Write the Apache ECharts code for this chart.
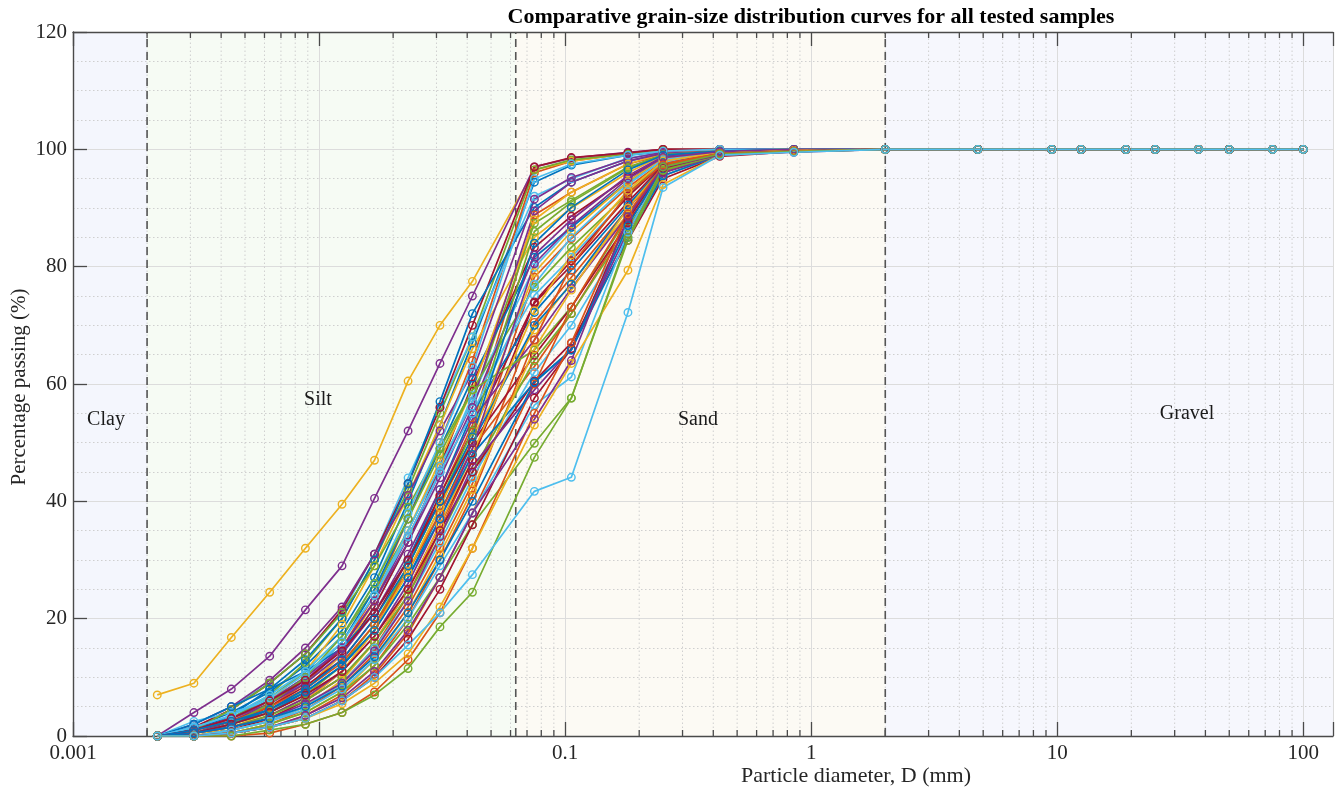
<!DOCTYPE html>
<html><head><meta charset="utf-8">
<script src="https://cdn.jsdelivr.net/npm/echarts@6/dist/echarts.min.js"></script>
<style>html,body{margin:0;padding:0;background:#fff}#c{width:1342px;height:793px}</style>
</head><body><div id="c"></div><script>
// ---------------- DATA ----------------
const hydroD = [0.0022, 0.0031, 0.0044, 0.0063, 0.0088, 0.0124, 0.0168, 0.023, 0.031, 0.042];
const sieveD = [0.075, 0.106, 0.18, 0.25, 0.425, 0.85, 2];
const coarseD = [4.75, 9.5, 12.5, 19, 25, 37.5, 50, 75, 100];
const coarsePassing = [100, 100, 100, 100, 100, 100, 100, 100, 100];
// passing (%) at hydroD then sieveD
const sample01 = [0, 1.5, 4, 7.5, 12, 18, 27, 40, 53, 67, 94.4, 97.3, 99, 99.6, 99.8, 100, 100];
const sample02 = [0, 0.5, 2, 5, 9, 15, 24, 37, 50, 64, 96, 98, 99.3, 100, 100, 100, 100];
const sample03 = [7, 9, 16.8, 24.5, 32, 39.5, 47, 60.5, 70, 77.5, 96.5, 98, 99.3, 100, 100, 100, 100];
const sample04 = [0, 4, 8, 13.6, 21.5, 29, 40.5, 52, 63.5, 75, 97, 98.5, 99.5, 100, 100, 100, 100];
const sample05 = [0, 1, 3, 7, 12.5, 20, 30, 42, 55, 68, 96.5, 98.2, 99.2, 99.8, 100, 100, 100];
const sample06 = [0, 2, 5, 9, 14, 21, 31, 44, 56, 68, 92, 95, 98.5, 99.5, 100, 100, 100];
const sample07 = [0, 1.5, 4.5, 9, 14, 21.5, 31, 43, 56, 70, 97, 98.6, 99.4, 100, 100, 100, 100];
const sample08 = [0, 1, 3.5, 8, 13, 20, 30, 43, 57, 72, 90.1, 94.4, 98, 99.3, 100, 100, 100];
const sample09 = [0, 0, 1, 3, 6, 11, 18, 29, 41, 53, 88.8, 92.7, 97.5, 99, 99.6, 100, 100];
const sample10 = [0, 0.5, 2.5, 6, 11, 19, 29, 41, 53, 66, 85, 90, 96, 99, 99.7, 100, 100];
const sample11 = [0, 2, 5, 9.5, 15, 22, 31, 41, 52, 62, 91.5, 95.2, 98.4, 99.5, 100, 100, 100];
const sample12 = [0, 1, 3, 6.5, 11, 17, 25, 35, 46, 57, 87.4, 91.3, 97, 99, 99.7, 100, 100];
const sample13 = [0, 2.5, 4, 6, 9, 14, 22, 33, 45, 58, 79.9, 86.7, 94.2, 98.5, 99.5, 100, 100];
const sample14 = [0, 0.5, 2, 4.5, 8, 14, 22, 33, 46, 60, 83.3, 88.6, 95.2, 98.6, 99.5, 99.8, 100];
const sample15 = [0, 1.5, 3, 6, 10, 16, 25, 37, 49, 61, 81.6, 86.7, 94.5, 98.6, 99.6, 100, 100];
const sample16 = [0, 0, 1, 2.5, 5, 9, 15, 24, 35, 47, 78.2, 84.8, 93.5, 98, 99.4, 99.8, 100];
const sample17 = [0, 0, 1.5, 4, 8, 14, 23, 35, 47, 59, 88, 92.7, 97.5, 99.3, 99.8, 100, 100];
const sample18 = [0, 0.5, 2.5, 5.5, 9.5, 15, 23, 34, 45, 57, 89.5, 94.4, 98, 99.3, 99.7, 100, 100];
const sample19 = [0, 1, 4.5, 9, 14, 21, 29, 39, 49, 59, 76.5, 83.3, 92.5, 98, 99.4, 100, 100];
const sample20 = [0, 1, 3, 6, 10, 16, 24, 35, 46, 57, 75.1, 81.6, 92, 97.8, 99.4, 99.8, 100];
const sample21 = [0, 1, 2.5, 5, 8.5, 13, 20, 30, 41, 52, 73.8, 80.2, 91, 97.3, 99.3, 99.8, 100];
const sample22 = [0, 2, 5, 8, 11, 15, 21, 30, 42, 55, 72.2, 79.4, 90.5, 97, 99.3, 99.8, 100];
const sample23 = [0, 0, 0.5, 2, 4.5, 8.5, 14, 22, 32, 43, 70.5, 78.2, 89.9, 96.8, 99.2, 99.8, 100];
const sample24 = [0, 0, 1, 3, 6, 11, 18, 28, 39, 51, 69.2, 77.2, 89, 96.5, 99.3, 99.8, 100];
const sample25 = [0, 1, 3, 6, 10, 15, 23, 33, 44, 56, 82, 88, 95.5, 98.8, 99.6, 100, 100];
const sample26 = [0, 0.5, 2, 4, 7, 12, 19, 29, 40, 52, 86, 91, 96.8, 99.1, 99.7, 100, 100];
const sample27 = [0, 1.5, 3.5, 7, 11, 17, 26, 38, 50, 63, 95, 97.5, 99, 99.7, 100, 100, 100];
const sample28 = [0, 0, 1, 3, 6, 10, 16, 25, 36, 47, 74, 81, 92, 97.5, 99.4, 99.8, 100];
const sample29 = [0, 0.5, 2, 4, 7.5, 12, 18, 27, 38, 50, 70, 77, 90, 97, 99.3, 99.8, 100];
const sample30 = [0, 1, 2.5, 5, 8, 12.5, 19, 28, 38, 49, 63, 72, 87.5, 96.3, 99.1, 99.7, 100];
const sample31 = [0, 0.5, 1.5, 3.5, 6.5, 11, 18, 28, 39, 51, 79, 86, 94.5, 98.5, 99.6, 100, 100];
const sample32 = [0, 1, 3, 5.5, 9, 14, 21, 31, 42, 54, 67.5, 76.3, 88.8, 96.4, 99.2, 99.8, 100];
const sample33 = [0, 0.5, 2, 5.5, 10, 17, 26, 37, 48, 59, 65.8, 73.1, 88.5, 96.5, 99.3, 99.8, 100];
const sample34 = [0, 1.5, 3.5, 6.5, 10.5, 16, 24, 34, 45, 55, 77, 85, 94, 98.2, 99.5, 100, 100];
const sample35 = [0, 1, 3, 6, 9.5, 14.5, 21, 30, 40, 50, 64.9, 73.1, 87.5, 96, 99, 99.7, 100];
const sample36 = [0, 0.5, 2, 4.5, 8, 13, 20, 29, 40, 51, 84, 90.1, 96.5, 99, 99.7, 100, 100];
const sample37 = [0, 0, 0.5, 1.5, 3.5, 7, 12, 20, 30, 41, 67.5, 80.2, 92.5, 97.5, 99.4, 99.8, 100];
const sample38 = [0, 0, 1, 2.5, 5, 9.5, 16, 25, 36, 48, 72.5, 82, 93, 98, 99.5, 99.8, 100];
const sample39 = [0, 0.5, 1.5, 3.5, 6.5, 11, 17, 26, 37, 49, 80.5, 87, 95, 98.6, 99.6, 100, 100];
const sample40 = [0, 0.5, 1.5, 3.5, 6, 10, 16, 24, 34, 45, 64, 72, 86.7, 95.5, 99, 99.7, 100];
const sample41 = [0, 0, 1, 2.5, 5, 9, 15, 23, 33, 44, 62, 70, 86, 95.5, 99, 99.7, 100];
const sample42 = [0, 0.5, 2, 4, 7, 11, 17, 25, 35, 45, 60.5, 67, 84.5, 95, 98.8, 99.6, 100];
const sample43 = [0, 1, 2.5, 4.5, 7.5, 12, 18, 27, 37, 48, 60.3, 65.8, 85, 95.5, 99, 99.7, 100];
const sample44 = [0, 0, 0.5, 1.5, 3, 6, 10.5, 17.5, 27, 38, 60, 73.1, 89, 97, 99.3, 99.8, 100];
const sample45 = [0, 0, 0.5, 2, 4, 7.5, 13, 21, 31, 42, 66, 76, 90, 97, 99.3, 99.8, 100];
const sample46 = [0, 0.5, 1.5, 3, 5.5, 9, 14.5, 23, 34, 46, 59, 66, 86, 96, 99, 99.7, 100];
const sample47 = [0, 0, 0.5, 2, 4, 7.5, 12, 19, 27, 36, 49.9, 57.6, 84.5, 96.4, 99, 99.6, 100];
const sample48 = [0, 0, 1, 2.5, 4.5, 8, 13, 20, 29, 38, 56.4, 61.2, 85.9, 97, 99.2, 99.6, 100];
const sample49 = [0, 0, 0.5, 1.5, 3, 6, 10, 16.5, 25, 36, 57.6, 66, 88, 96.8, 99.2, 99.7, 100];
const sample50 = [0, 0.5, 1.5, 3, 5, 8.5, 13.5, 21, 30, 40, 60.3, 65.8, 87, 97, 99.3, 99.7, 100];
const sample51 = [0, 0, 0, 0.5, 2, 4, 7.5, 13, 21, 32, 55, 67, 89, 97.3, 99.3, 99.7, 100];
const sample52 = [0, 0, 0.5, 1.5, 3, 5.5, 9, 14, 22, 32, 53, 63.5, 79.4, 94, 99, 99.6, 100];
const sample53 = [0, 0, 0.5, 1.5, 3.5, 6.5, 11, 18, 27, 38, 54, 64, 88.5, 97, 99, 99.5, 100];
const sample54 = [0, 0, 0, 1, 2, 4, 7, 11.5, 18.6, 24.5, 47.5, 57.6, 85, 97, 99.2, 99.6, 100];
const sample55 = [0, 0, 0.5, 1.5, 3, 6, 10, 15.5, 21, 27.5, 41.7, 44.1, 72.2, 93.5, 99, 99.5, 100];
const samples = [sample01, sample02, sample03, sample04, sample05, sample06, sample07, sample08,
  sample09, sample10, sample11, sample12, sample13, sample14, sample15, sample16, sample17, sample18,
  sample19, sample20, sample21, sample22, sample23, sample24, sample25, sample26, sample27, sample28,
  sample29, sample30, sample31, sample32, sample33, sample34, sample35, sample36, sample37, sample38,
  sample39, sample40, sample41, sample42, sample43, sample44, sample45, sample46, sample47, sample48,
  sample49, sample50, sample51, sample52, sample53, sample54, sample55];

const xTickLabels = ['0.001', '0.01', '0.1', '1', '10', '100'];
const minorXTicks = [0.002,0.003,0.004,0.005,0.006,0.007,0.008,0.009,
  0.02,0.03,0.04,0.05,0.06,0.07,0.08,0.09,
  0.2,0.3,0.4,0.5,0.6,0.7,0.8,0.9,
  2,3,4,5,6,7,8,9,
  20,30,40,50,60,70,80,90];
const zoneBounds = [0.001, 0.002, 0.063, 2, 132];
const zoneNames = ['Clay', 'Silt', 'Sand', 'Gravel'];
const zoneDividers = [0.002, 0.063, 2];

// ---------------- CHART ----------------
const colors = ['#0072BD','#D95319','#EDB120','#7E2F8E','#77AC30','#4DBEEE','#A2142F'];
const zoneColors = ['#f4f6fd', '#f6fbf4', '#fcfaf4', '#f6f7fd'];
const FONT = '"Liberation Serif", "DejaVu Serif", serif';
const AX = '#4a4a4a';
const X_MIN = zoneBounds[0], X_MAX = zoneBounds[4];

const chart = echarts.init(document.getElementById('c'), null, {renderer: 'canvas'});

function xFmt(v) {
  const l = Math.log10(v);
  const r = Math.round(l);
  if (Math.abs(l - r) < 1e-6 && r >= -3 && r <= 2) return xTickLabels[r + 3];
  return '';
}

const dataSeries = samples.map((p, i) => {
  const d = [];
  hydroD.forEach((x, k) => d.push([x, p[k]]));
  sieveD.forEach((x, k) => d.push([x, p[hydroD.length + k]]));
  coarseD.forEach((x, k) => d.push([x, coarsePassing[k]]));
  const c = colors[i % colors.length];
  return {
    type: 'line', name: 'S' + (i + 1), z: 5, silent: true,
    data: d, symbol: 'circle', symbolSize: 7.5,
    lineStyle: {width: 1.7, color: c},
    itemStyle: {color: 'rgba(0,0,0,0)', borderColor: c, borderWidth: 1.4},
    emphasis: {disabled: true}
  };
});

const option = {
  animation: false,
  backgroundColor: '#ffffff',
  grid: {left: 73, right: 9, top: 32, bottom: 57, containLabel: false},
  xAxis: [{
    type: 'log', logBase: 10, min: X_MIN, max: X_MAX, position: 'bottom', z: 2,
    axisLine: {show: true, onZero: false, lineStyle: {color: AX, width: 1.4}},
    axisTick: {show: true, inside: true, length: 14, lineStyle: {color: AX, width: 1.3}},
    axisLabel: {formatter: xFmt, fontFamily: FONT, fontSize: 21, color: '#262626', margin: 7},
    splitLine: {show: true, lineStyle: {color: '#dcdcdc', width: 1}},
    minorTick: {show: false}, minorSplitLine: {show: false}
  }, {
    type: 'log', logBase: 10, min: X_MIN, max: X_MAX, position: 'top', z: 2,
    axisLine: {show: true, onZero: false, lineStyle: {color: AX, width: 1.4}},
    axisTick: {show: true, inside: true, length: 14, lineStyle: {color: AX, width: 1.3}},
    axisLabel: {show: false}, splitLine: {show: false}
  }],
  yAxis: [{
    type: 'value', min: 0, max: 120, interval: 20, z: 2,
    axisLine: {show: true, lineStyle: {color: AX, width: 1.4}},
    axisTick: {show: true, inside: true, length: 14, lineStyle: {color: AX, width: 1.3}},
    axisLabel: {fontFamily: FONT, fontSize: 21, color: '#262626', margin: 6},
    splitLine: {show: true, lineStyle: {color: '#dcdcdc', width: 1}},
    minorTick: {show: false, splitNumber: 4},
    minorSplitLine: {show: true, lineStyle: {color: '#cfcfcf', width: 1, type: [1.5, 2.5]}}
  }],
  series: [
    { // background zones
      type: 'custom', z: 1, silent: true,
      data: zoneNames.map((n, i) => [zoneBounds[i], zoneBounds[i + 1], i]),
      encode: {x: [0, 1]},
      renderItem: function (params, api) {
        const a = api.coord([api.value(0), 120]);
        const b = api.coord([api.value(1), 0]);
        return {type: 'rect', shape: {x: a[0], y: a[1], width: b[0] - a[0], height: b[1] - a[1]},
          style: {fill: zoneColors[api.value(2)]}};
      }
    },
    { // minor log grid + minor ticks
      type: 'custom', z: 3, silent: true,
      data: minorXTicks.map(v => [v, 0]),
      encode: {x: 0, y: 1},
      renderItem: function (params, api) {
        const x = api.value(0);
        const b = api.coord([x, 0]);
        const t = api.coord([x, 120]);
        return {type: 'group', children: [
          {type: 'line', shape: {x1: b[0], y1: b[1], x2: t[0], y2: t[1]},
           style: {stroke: '#cfcfcf', lineWidth: 1, lineDash: [1.5, 2.5]}},
          {type: 'line', shape: {x1: b[0], y1: b[1], x2: b[0], y2: b[1] - 6},
           style: {stroke: AX, lineWidth: 1.3}},
          {type: 'line', shape: {x1: t[0], y1: t[1], x2: t[0], y2: t[1] + 6},
           style: {stroke: AX, lineWidth: 1.3}}
        ]};
      }
    },
    { // zone dividers
      type: 'custom', z: 4, silent: true,
      data: zoneDividers.map(v => [v, 0]),
      encode: {x: 0, y: 1},
      renderItem: function (params, api) {
        const x = api.value(0);
        const b = api.coord([x, 0]);
        const t = api.coord([x, 120]);
        return {type: 'line', shape: {x1: b[0], y1: b[1], x2: t[0], y2: t[1]},
          style: {stroke: '#555555', lineWidth: 1.6, lineDash: [8, 5]}};
      }
    }
  ].concat(dataSeries),
  graphic: [
    {type: 'text', x: 811, y: 17, z: 10, style: {text: 'Comparative grain-size distribution curves for all tested samples',
      font: 'bold 22px ' + FONT, fill: '#000', align: 'center', verticalAlign: 'middle'}},
    {type: 'text', x: 856, y: 776, z: 10, style: {text: 'Particle diameter, D (mm)',
      font: '22px ' + FONT, fill: '#262626', align: 'center', verticalAlign: 'middle'}},
    {type: 'text', x: 19, y: 387, rotation: Math.PI / 2, z: 10, style: {text: 'Percentage passing (%)',
      font: '21px ' + FONT, fill: '#262626', align: 'center', verticalAlign: 'middle'}},
    {type: 'text', x: 106, y: 420, z: 10, style: {text: zoneNames[0], font: '20px ' + FONT, fill: '#1a1a1a', align: 'center', verticalAlign: 'middle'}},
    {type: 'text', x: 318, y: 400, z: 10, style: {text: zoneNames[1], font: '20px ' + FONT, fill: '#1a1a1a', align: 'center', verticalAlign: 'middle'}},
    {type: 'text', x: 698, y: 420, z: 10, style: {text: zoneNames[2], font: '20px ' + FONT, fill: '#1a1a1a', align: 'center', verticalAlign: 'middle'}},
    {type: 'text', x: 1187, y: 414, z: 10, style: {text: zoneNames[3], font: '20px ' + FONT, fill: '#1a1a1a', align: 'center', verticalAlign: 'middle'}}
  ]
};
chart.setOption(option);
</script></body></html>
